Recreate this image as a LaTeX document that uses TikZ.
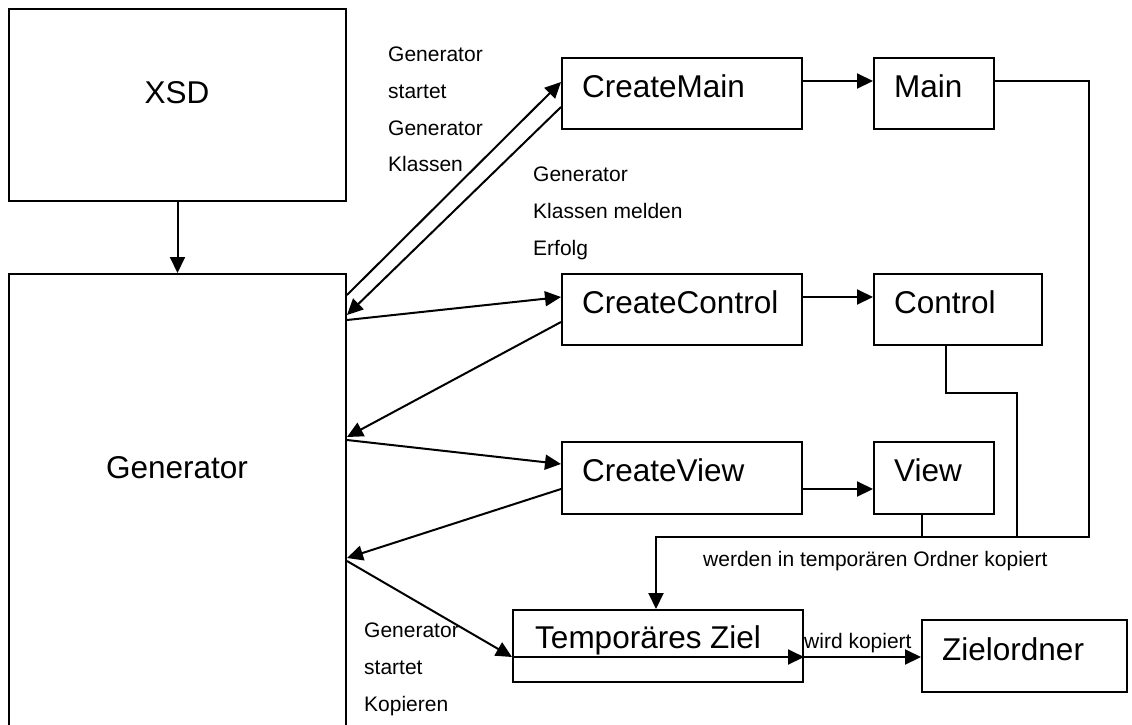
\documentclass[tikz,border=0pt]{standalone}
\usepackage{fontspec}
\setmainfont{Liberation Sans}
\usetikzlibrary{arrows.meta}
\begin{document}
\begin{tikzpicture}[x=1pt,y=-1pt,
  box/.style={draw, line width=2pt, inner sep=0pt, anchor=north west},
  big/.style={font=\fontsize{31.5}{36}\selectfont, inner sep=0pt},
  small/.style={font=\fontsize{21}{36.7}\selectfont, inner sep=0pt, align=left},
  conn/.style={line width=2pt},
  arr/.style={conn, -{Triangle[length=16pt,width=15pt]}},
]
\useasboundingbox[fill=white] (0,0) rectangle (1132,724);

% boxes
\node[box, minimum width=337pt, minimum height=192pt] (xsd) at (8,8) {};
\node[box, minimum width=337pt, minimum height=480pt] (gen) at (8,273) {};
\node[box, minimum width=240pt, minimum height=71pt] (cmain) at (561,57) {};
\node[box, minimum width=120pt, minimum height=71pt] (main) at (873,57) {};
\node[box, minimum width=240pt, minimum height=71pt] (cctrl) at (561,273) {};
\node[box, minimum width=168pt, minimum height=71pt] (ctrl) at (873,273) {};
\node[box, minimum width=240pt, minimum height=72pt] (cview) at (561,441) {};
\node[box, minimum width=120pt, minimum height=72pt] (view) at (873,441) {};
\node[box, minimum width=290pt, minimum height=72pt] (temp) at (512,609) {};
\node[box, minimum width=205pt, minimum height=72pt] (ziel) at (921,619) {};

% box titles
\node[big, anchor=base] (xsdtext) at (177,103) {XSD};
\node[big, anchor=base] (gentext) at (177,478) {Generator};
\node[big, anchor=base west] (cmaintext) at (582,97) {CreateMain};
\node[big, anchor=base west] (maintext) at (894,97) {Main};
\node[big, anchor=base west] (cctrltext) at (582,313) {CreateControl};
\node[big, anchor=base west] (ctrltext) at (894,313) {Control};
\node[big, anchor=base west] (cviewtext) at (582,481) {CreateView};
\node[big, anchor=base west] (viewtext) at (894,481) {View};
\node[big, anchor=base west] (temptext) at (535,648) {Temporäres Ziel};
\node[big, anchor=base west] (zieltext) at (942,660) {Zielordner};

% annotations
\node[small, anchor=north west] (lstart) at (388,47) {Generator\\startet\\Generator\\Klassen};
\node[small, anchor=north west] (lmeld) at (533,167) {Generator\\Klassen melden\\Erfolg};
\node[small, anchor=north west] (lcopy) at (364,623) {Generator\\startet\\Kopieren};
\node[small, anchor=base west] (ltemp) at (703,566) {werden in temporären Ordner kopiert};
\node[small, anchor=base west] (lwird) at (804,648) {wird kopiert};

% XSD feeds the generator
\draw[arr] (xsd.south) -- (gen.north);

% generator <-> generator classes
\draw[arr] ([yshift=-22pt]gen.north east) -- ([yshift=-25pt]cmain.north west);
\draw[arr] ([yshift=-50pt]cmain.north west) -- ([yshift=-42pt]gen.north east);
\draw[arr] ([yshift=-47pt]gen.north east) -- ([yshift=-24pt]cctrl.north west);
\draw[arr] ([yshift=-49pt]cctrl.north west) -- ([yshift=-164pt]gen.north east);
\draw[arr] ([yshift=-167pt]gen.north east) -- ([yshift=-23pt]cview.north west);
\draw[arr] ([yshift=-48pt]cview.north west) -- ([yshift=-285pt]gen.north east);
\draw[arr] ([yshift=-288pt]gen.north east) -- ([yshift=-48pt]temp.north west);

% classes produce their outputs
\draw[arr] ([yshift=-24pt]cmain.north east) -- ([yshift=-24pt]main.north west);
\draw[arr] ([yshift=-24pt]cctrl.north east) -- ([yshift=-24pt]ctrl.north west);
\draw[arr] ([yshift=-48pt]cview.north east) -- ([yshift=-48pt]view.north west);

% outputs collected into the temporary target
\coordinate (bus) at (1089,537);
\coordinate (cjog) at (1017,393);
\draw[arr] ([yshift=-24pt]main.north east) -| (bus) -| ([xshift=-2pt]temp.north);
\draw[conn] ([xshift=-12pt]ctrl.south) |- (cjog) -- (cjog |- bus);
\draw[conn] ([xshift=-12pt]view.south) -- ([xshift=-12pt]view.south |- bus);

% copy step
\draw[arr] ([yshift=-48pt]temp.north west) -- ([yshift=-48pt]temp.north east);
\draw[arr] ([yshift=-48pt]temp.north east) -- ([yshift=-38pt]ziel.north west);
\end{tikzpicture}
\end{document}
